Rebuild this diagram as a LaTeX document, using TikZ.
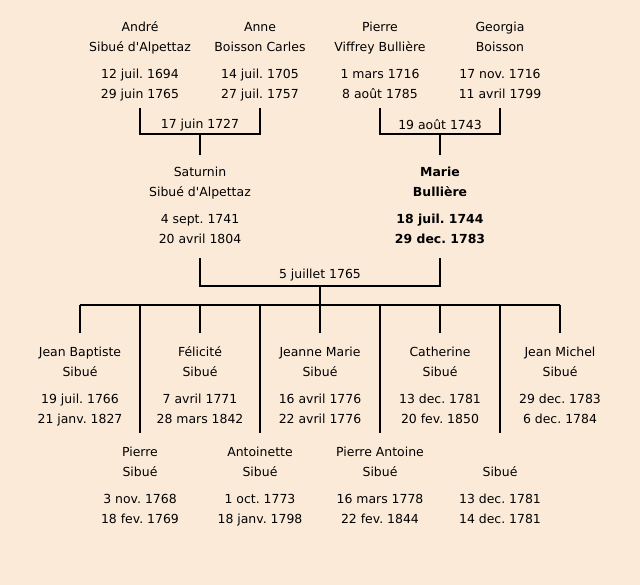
\documentclass[tikz,border=0pt]{standalone}
\usepackage{fontspec}
\setmainfont{DejaVu Sans}
\frenchspacing
\definecolor{bg}{RGB}{252,234,216}
\newcommand{\pers}[4]{\strut #1\\#2\\[8bp]#3\\#4\strut}
\newcommand{\apo}{\textquotesingle}
\begin{document}
\begin{tikzpicture}[x=1bp,y=-1bp,
  person/.style={align=center,inner sep=0pt,font=\fontsize{12.5}{20}\selectfont},
  boldperson/.style={person,font=\fontsize{12.5}{20}\selectfont\bfseries},
  wed/.style={inner sep=0pt,font=\fontsize{12.5}{20}\selectfont},
  link/.style={line width=2bp,black}]
\fill[bg] (0,0) rectangle (640,585);
\useasboundingbox (0,0) rectangle (640,585);
% generation 1
\node[person] (andre) at (140,61) {\pers{André}{Sibué d\apo Alpettaz}{12 juil. 1694}{29 juin 1765}};
\node[person] (anne) at (260,61) {\pers{Anne}{Boisson Carles}{14 juil. 1705}{27 juil. 1757}};
\node[person] (pierreV) at (380,61) {\pers{Pierre}{Viffrey Bullière}{1 mars 1716}{8 août 1785}};
\node[person] (georgia) at (500,61) {\pers{Georgia}{Boisson}{17 nov. 1716}{11 avril 1799}};
% generation 2
\node[person] (saturnin) at (200,206) {\pers{Saturnin}{Sibué d\apo Alpettaz}{4 sept. 1741}{20 avril 1804}};
\node[boldperson] (marie) at (440,206) {\pers{Marie}{Bullière}{18 juil. 1744}{29 dec. 1783}};
% children row 1
\node[person] (jb) at (80,386) {\pers{Jean Baptiste}{Sibué}{19 juil. 1766}{21 janv. 1827}};
\node[person] (fel) at (200,386) {\pers{Félicité}{Sibué}{7 avril 1771}{28 mars 1842}};
\node[person] (jeanne) at (320,386) {\pers{Jeanne Marie}{Sibué}{16 avril 1776}{22 avril 1776}};
\node[person] (cath) at (440,386) {\pers{Catherine}{Sibué}{13 dec. 1781}{20 fev. 1850}};
\node[person] (jm) at (560,386) {\pers{Jean Michel}{Sibué}{29 dec. 1783}{6 dec. 1784}};
% children row 2
\node[person] (pierreS) at (140,486) {\pers{Pierre}{Sibué}{3 nov. 1768}{18 fev. 1769}};
\node[person] (antoi) at (260,486) {\pers{Antoinette}{Sibué}{1 oct. 1773}{18 janv. 1798}};
\node[person] (pa) at (380,486) {\pers{Pierre Antoine}{Sibué}{16 mars 1778}{22 fev. 1844}};
\node[person] (sib) at (500,486) {\pers{}{Sibué}{13 dec. 1781}{14 dec. 1781}};
% marriage points
\coordinate (m1) at (200,134);
\coordinate (m2) at (440,134);
\coordinate (m3) at (320,286);
\coordinate (bar) at (320,305);
\node[wed] (w1) at (200,125) {17 juin 1727};
\node[wed] (w2) at (440,125) {19 août 1743};
\node[wed] (w3) at (320,275) {5 juillet 1765};
% connectors generation 1
\draw[link] ([yshift=-3bp]andre.south) |- (m1) -| ([yshift=-3bp]anne.south);
\draw[link] ([yshift=-3bp]pierreV.south) |- (m2) -| ([yshift=-3bp]georgia.south);
\draw[link] (m1) -- ([yshift=7bp]saturnin.north);
\draw[link] (m2) -- ([yshift=7bp]marie.north);
% connectors generation 2
\draw[link] ([yshift=-8bp]saturnin.south) |- (m3) -| ([yshift=-8bp]marie.south);
\draw[link] (m3) -- (bar);
\draw[link] (jb.north |- bar) -- (jm.north |- bar);
\foreach \c in {jb,fel,jeanne,cath,jm,pierreS,antoi,pa,sib}
  \draw[link] (\c.north |- bar) -- ([yshift=9bp]\c.north);
\end{tikzpicture}
\end{document}
